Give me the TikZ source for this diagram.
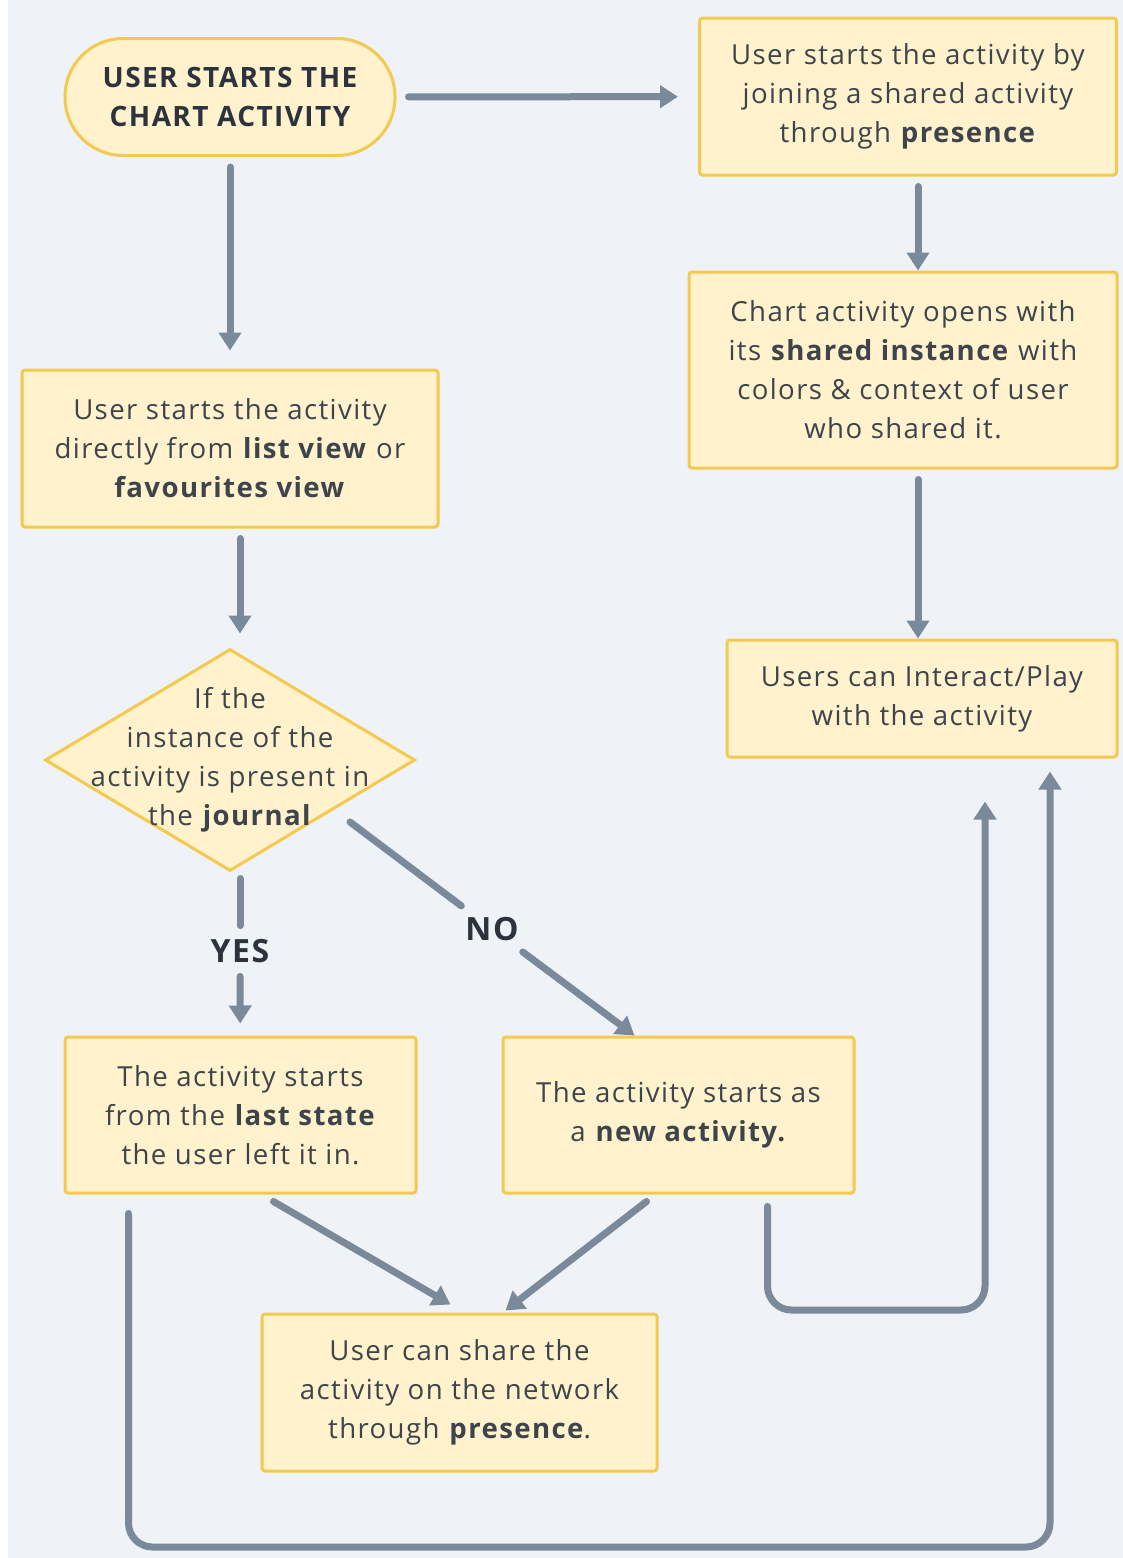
\documentclass[tikz,border=0pt]{standalone}
\usepackage{fontspec}
\setmainfont{Open Sans}[LetterSpace=5]
\usetikzlibrary{positioning,shapes.geometric,arrows.meta,calc}
\definecolor{canvas}{HTML}{EFF3F8}
\definecolor{boxfill}{HTML}{FFF2CD}
\definecolor{boxline}{HTML}{F3CA4F}
\definecolor{flowgray}{HTML}{7B8A9B}
\definecolor{ink}{HTML}{2C333D}
\definecolor{softink}{HTML}{3E444B}
\tikzset{stepbox/.style={rectangle,draw=boxline,fill=boxfill,line width=1.5pt,rounded corners=1.5pt,inner sep=0pt,align=center,text=softink,font=\fontsize{13.8}{19.5}\selectfont},
	 startbox/.style={stepbox,text=ink,rounded corners=29pt,font=\bfseries\fontsize{14}{19.5}\selectfont},
	 decision/.style={diamond,draw=boxline,fill=boxfill,line width=1.5pt,inner sep=0pt},
	 answer/.style={inner sep=0pt,text=ink,font=\bfseries\fontsize{16}{18}\selectfont},
	 flowline/.style={draw=flowgray,line width=3.5pt,line cap=round},
	 flow/.style={flowline,-{Triangle[length=9pt,width=11pt]}}
	 }

\begin{document}
\begin{tikzpicture}[x=0.5pt,y=-0.5pt] % chart activity flow
	\useasboundingbox (0,0) rectangle (1123,1558);
	\fill[white] (0,0) rectangle (1123,1558);
	\fill[canvas] (8,0) rectangle (1123,1558);
	\node[startbox,minimum width=165pt,minimum height=58.5pt] (start) at (230,97) {USER STARTS THE\\CHART ACTIVITY};
	\node[stepbox,minimum width=208.5pt,minimum height=78.5pt] (joinbox) at (908,96.5) {User starts the activity by\\joining a shared activity\\through \textbf{presence}};
	\node[stepbox,minimum width=214pt,minimum height=98pt] (sharedbox) at (903,370) {Chart activity opens with\\its \textbf{shared instance} with\\colors \& context of user\\who shared it.};
	\node[stepbox,minimum width=195pt,minimum height=58.5pt] (playbox) at (922,698.5) {Users can Interact/Play\\with the activity};
	\node[stepbox,minimum width=208pt,minimum height=78.5pt] (listbox) at (230,448.5) {User starts the activity\\directly from \textbf{list view} or\\\textbf{favourites view}};
	\node[decision,minimum width=185pt,minimum height=111pt] (dec) at (230,760) {};
	\node[align=center,text=softink,inner sep=0pt,font=\fontsize{13.8}{19.5}\selectfont] (dectext) at (dec) {If the\\instance of the\\activity is present in\\the \textbf{journal}};
	\node[stepbox,minimum width=175.5pt,minimum height=78pt] (lastbox) at (240.5,1115) {The activity starts\\from the \textbf{last state}\\the user left it in.};
	\node[stepbox,minimum width=175.5pt,minimum height=78pt] (newbox) at (678.5,1115) {The activity starts as\\a \textbf{new activity.}};
	\node[stepbox,minimum width=197.5pt,minimum height=78.5pt] (sharebox) at (459.5,1392.5) {User can share the\\activity on the network\\through \textbf{presence}.};
	\node[answer,minimum height=25pt] (yes) at (240,951) {YES};
	\node[answer,circle,minimum size=38pt] (no) at (492,929) {NO};
	\coordinate (rx) at (918,0); \coordinate (lx) at (240,0);
	\coordinate (nostart) at (350,822);
	\coordinate (loopA) at (985,1310); \coordinate (loopB) at (1050,1547);
	% main line
	\draw[flow,shorten <=6pt,shorten >=10pt] (start) -- (joinbox);
	\draw[flow,shorten <=5pt,shorten >=9pt] (start) -- (listbox);
	\draw[flow,shorten <=5pt] (joinbox.south -| rx) -- (sharedbox.north -| rx);
	\draw[flow,shorten <=5pt] (sharedbox.south -| rx) -- (playbox.north -| rx);
	\draw[flow,shorten <=5pt,shorten >=7pt] (listbox.south -| lx) -- (dec.north -| lx);
	% yes / no
	\draw[flowline,shorten <=3pt] (dec.south -| yes) -- (yes);
	\draw[flow,shorten >=6pt] (yes) -- (lastbox);
	\draw[flowline] (nostart) -- (no);
	\draw[flow] (no) -- ($(newbox.north west)+(133,0)$);
	% sharing and back to play
	\draw[flow] ($(lastbox.south)+(33,7)$) -- ($(sharebox.north)+(-9,-8)$);
	\draw[flow] ($(newbox.south)+(-32,7)$) -- ($(sharebox.north)+(46,-2)$);
	\draw[flow,rounded corners=12pt] ($(newbox.south east)+(-88,12)$) |- (loopA) -- ($(playbox.south -| loopA)+(0,43)$);
	\draw[flow,rounded corners=12pt] ($(lastbox.south west)+(65,19)$) |- (loopB) -- ($(playbox.south -| loopB)+(0,13)$);
\end{tikzpicture}
\end{document}
